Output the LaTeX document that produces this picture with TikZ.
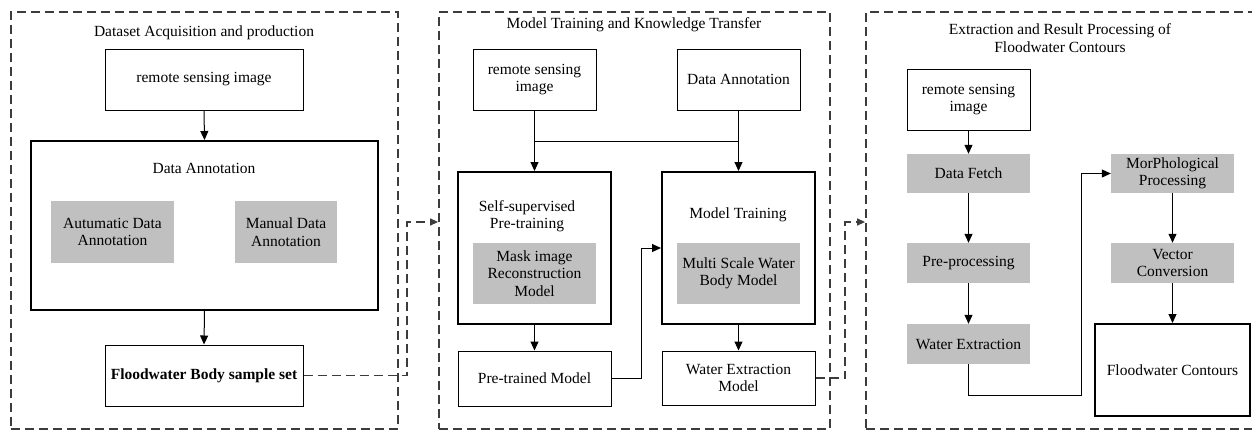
\documentclass[tikz,border=0pt]{standalone}
\usepackage{fontspec}
\setmainfont{Liberation Serif}
\usetikzlibrary{arrows.meta}
\definecolor{boxgrey}{RGB}{192,192,192}
\definecolor{dashgrey}{RGB}{60,60,60}
\tikzset{
  every node/.style={font=\fontsize{15.5}{17.5}\selectfont, align=center, inner sep=0pt},
  plain/.style={draw=black, line width=1pt, fill=white},
  thick box/.style={draw=black, line width=2pt},
  greybox/.style={fill=boxgrey},
  panel/.style={draw=dashgrey, line width=1.8pt, dash pattern=on 9pt off 5pt},
  arr/.style={draw=black, line width=1pt, -{Triangle[length=9pt,width=8pt]}},
  ln/.style={draw=black, line width=1pt},
  darr/.style={draw=dashgrey, line width=1.3pt, dash pattern=on 9pt off 5pt, -{Triangle[length=8pt,width=7pt]}},
}
\newcommand{\bx}[7]{\node[#1, minimum width=#4pt, minimum height=#5pt] (#2) at (#3) {#6};}
\begin{document}
\begin{tikzpicture}[x=1pt,y=-1pt]
\useasboundingbox (0,0) rectangle (1252,432);
% panels
\node[panel, minimum width=387pt, minimum height=417pt] (p1) at (204.5,220.5) {};
\node[panel, minimum width=391pt, minimum height=417pt] (p2) at (634.5,220.5) {};
\node[panel, minimum width=400pt, minimum height=417pt] (p3) at (1066,220.5) {};
% panel 1
\node (t1) at (204,33) {Dataset Acquisition and production};
\bx{plain}{rs1}{204,79.5}{198}{61}{remote sensing image}{}
\bx{thick box}{da1}{204.5,225.5}{347}{169}{}{}
\node (da1l) at (204,168) {Data Annotation};
\bx{greybox}{auto}{112.5,232}{123}{62}{Autumatic Data\\Annotation}{}
\bx{greybox}{man}{286,232}{102}{62}{Manual Data\\Annotation}{}
\bx{plain}{fb}{204,375.5}{198}{61}{\bfseries Floodwater Body sample set}{}
\draw[arr] (rs1.south) -- (da1.north);
\draw[arr] (da1.south) -- (fb.north);
\coordinate (c1) at (407,222);
\draw[darr] (fb.east) -| (c1) -- (p2.west |- c1);
% panel 2
\node (t2) at (634,25) {Model Training and Knowledge Transfer};
\bx{plain}{rs2}{534.5,79.5}{123}{61}{remote sensing\\image}{}
\bx{plain}{da2}{738.5,79.5}{123}{61}{Data Annotation}{}
\bx{thick box}{ss}{534.5,248}{153}{152}{}{}
\bx{thick box}{mt}{738.5,248}{153}{152}{}{}
\node (ssl) at (527,216) {Self-supervised\\Pre-training};
\node (mtl) at (738,215) {Model Training};
\bx{greybox}{mask}{534.5,273.5}{123}{61}{Mask image\\Reconstruction\\Model}{}
\bx{greybox}{msw}{738.5,273.5}{123}{61}{Multi Scale Water\\Body Model}{}
\bx{plain}{pt}{534.5,378.5}{153}{55}{Pre-trained Model}{}
\bx{plain}{wem}{738.5,378}{153}{54}{Water Extraction\\Model}{}
\coordinate (j) at (534.5,141);
\draw[ln] (rs2.south) -- (j) -- (da2.south |- j);
\draw[arr] (j) -- (ss.north);
\draw[arr] (da2.south) -- (mt.north);
\draw[arr] (ss.south) -- (pt.north);
\draw[arr] (mt.south) -- (wem.north);
\coordinate (c2) at (641,248);
\draw[arr] (pt.east) -| (c2) -- (mt.west |- c2);
\coordinate (c3) at (845,222);
\draw[darr] (wem.east) -| (c3) -- (p3.west |- c3);
% panel 3
\node (t3) at (1060,38) {Extraction and Result Processing of\\Floodwater Contours};
\bx{plain}{rs3}{968.5,99.5}{123}{61}{remote sensing\\image}{}
\bx{greybox}{df}{968.5,173.5}{123}{39}{Data Fetch}{}
\bx{greybox}{pp}{968.5,263}{123}{40}{Pre-processing}{}
\bx{greybox}{we}{968.5,344}{123}{40}{Water Extraction}{}
\bx{greybox}{mp}{1172.5,173.5}{123}{39}{MorPhological\\Processing}{}
\bx{greybox}{vc}{1172.5,263}{123}{40}{Vector\\Conversion}{}
\bx{thick box}{fc}{1172.5,370}{155}{92}{Floodwater Contours}{}
\draw[arr] (rs3.south) -- (df.north);
\draw[arr] (df.south) -- (pp.north);
\draw[arr] (pp.south) -- (we.north);
\draw[arr] (mp.south) -- (vc.north);
\draw[arr] (vc.south) -- (fc.north);
\coordinate (c4) at (1081,395);
\draw[arr] (we.south) |- (c4) |- (mp.west);
\end{tikzpicture}
\end{document}
